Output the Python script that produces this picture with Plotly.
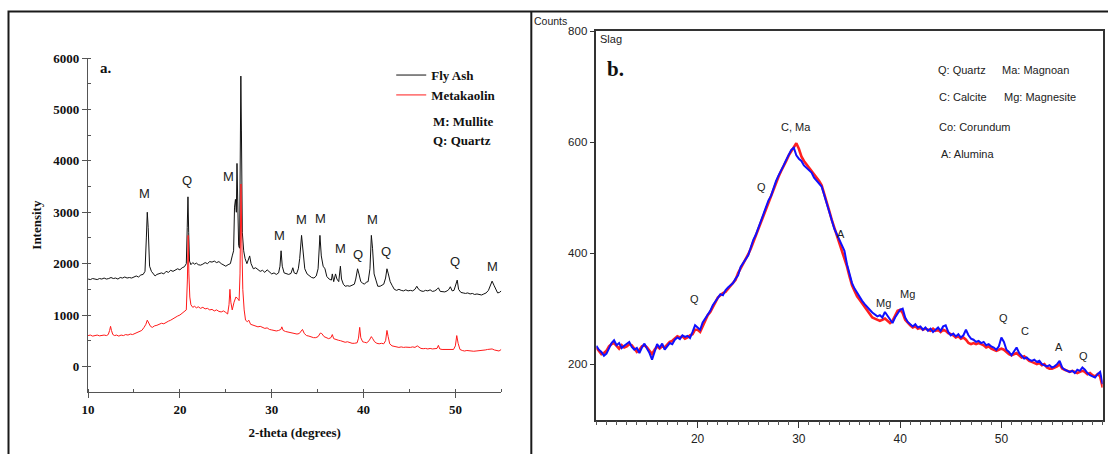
import plotly.graph_objects as go

W, H = 1108, 454

# ---- (a) Fly ash / metakaolin diffractograms: (2-theta, intensity) ----
fly_ash = [
    (10.0, 1700), (10.25, 1690), (10.5, 1710), (10.75, 1700), (11.0, 1690), (11.25, 1710),
    (11.5, 1700), (11.75, 1720), (12.0, 1700), (12.25, 1710), (12.5, 1730), (12.75, 1710),
    (13.0, 1720), (13.25, 1700), (13.5, 1730), (13.75, 1720), (14.0, 1740), (14.25, 1720),
    (14.5, 1730), (14.75, 1720), (15.0, 1740), (15.25, 1760), (15.5, 1740), (15.75, 1780),
    (16.0, 1790), (16.2, 1850), (16.35, 2500), (16.45, 3000), (16.55, 2700), (16.7, 1950),
    (16.9, 1850), (17.1, 1800), (17.3, 1760), (17.5, 1790), (17.75, 1800), (18.0, 1820),
    (18.25, 1800), (18.5, 1850), (18.75, 1830), (19.0, 1870), (19.25, 1850), (19.5, 1880),
    (19.75, 1900), (20.0, 1880), (20.25, 1920), (20.5, 1940), (20.7, 2000), (20.8, 2700),
    (20.88, 3300), (20.96, 2600), (21.05, 2050), (21.2, 1980), (21.4, 2020), (21.6, 1990),
    (21.8, 2010), (22.0, 1980), (22.25, 1970), (22.5, 1990), (22.75, 2020), (23.0, 2000),
    (23.25, 2040), (23.5, 2030), (23.75, 2050), (24.0, 2020), (24.25, 2040), (24.5, 2000),
    (24.75, 1980), (25.0, 1950), (25.25, 1980), (25.5, 2000), (25.7, 2150), (25.85, 2250),
    (25.95, 3100), (26.05, 3250), (26.15, 3000), (26.22, 3950), (26.3, 3200), (26.4, 2350),
    (26.5, 2300), (26.58, 4500), (26.64, 5650), (26.7, 4600), (26.8, 2600), (26.95, 2250),
    (27.1, 2100), (27.3, 2000), (27.5, 2100), (27.6, 2150), (27.75, 2000), (28.0, 1900),
    (28.25, 1920), (28.5, 1880), (28.75, 1850), (29.0, 1870), (29.25, 1830), (29.5, 1880),
    (29.75, 1840), (30.0, 1800), (30.25, 1820), (30.5, 1790), (30.75, 1820), (30.9, 1950),
    (31.02, 2250), (31.15, 1950), (31.35, 1820), (31.6, 1800), (31.85, 1790), (32.1, 1810),
    (32.3, 1920), (32.45, 1820), (32.7, 1800), (32.9, 1900), (33.05, 2100), (33.25, 2550),
    (33.4, 2300), (33.6, 1900), (33.85, 1800), (34.1, 1760), (34.35, 1730), (34.6, 1720),
    (34.85, 1760), (35.05, 1900), (35.25, 2550), (35.4, 2150), (35.6, 1950), (35.8, 1900),
    (36.0, 1750), (36.25, 1700), (36.5, 1680), (36.6, 1800), (36.75, 1650), (36.95, 1800),
    (37.1, 1700), (37.3, 1650), (37.48, 1950), (37.6, 1700), (37.8, 1600), (38.0, 1560),
    (38.25, 1570), (38.5, 1560), (38.75, 1580), (39.0, 1600), (39.15, 1700), (39.35, 1900),
    (39.5, 1800), (39.7, 1650), (39.9, 1620), (40.1, 1600), (40.3, 1640), (40.5, 1650),
    (40.7, 1900), (40.85, 2550), (40.98, 2300), (41.15, 1800), (41.35, 1680), (41.55, 1560),
    (41.8, 1560), (42.0, 1580), (42.2, 1600), (42.4, 1720), (42.55, 1900), (42.7, 1800),
    (42.9, 1650), (43.1, 1580), (43.35, 1500), (43.6, 1480), (43.85, 1500), (44.1, 1480),
    (44.35, 1470), (44.6, 1490), (44.85, 1470), (45.1, 1480), (45.35, 1470), (45.6, 1500),
    (45.8, 1560), (46.0, 1500), (46.25, 1470), (46.5, 1460), (46.75, 1480), (47.0, 1470),
    (47.25, 1490), (47.5, 1460), (47.75, 1470), (48.0, 1500), (48.15, 1530), (48.35, 1460),
    (48.6, 1460), (48.85, 1450), (49.1, 1470), (49.3, 1500), (49.45, 1550), (49.65, 1470),
    (49.85, 1480), (50.05, 1600), (50.2, 1680), (50.35, 1500), (50.6, 1440), (50.85, 1430),
    (51.1, 1420), (51.35, 1430), (51.6, 1410), (51.85, 1420), (52.1, 1400), (52.35, 1410),
    (52.6, 1400), (52.85, 1390), (53.1, 1410), (53.35, 1430), (53.6, 1480), (53.85, 1600),
    (54.0, 1660), (54.2, 1580), (54.4, 1500), (54.6, 1430), (54.8, 1440), (55.0, 1470),
]

metakaolin = [
    (10.0, 600), (10.25, 610), (10.5, 590), (10.75, 600), (11.0, 610), (11.25, 595),
    (11.5, 600), (11.75, 610), (12.0, 600), (12.2, 620), (12.35, 700), (12.45, 780),
    (12.55, 700), (12.7, 620), (12.9, 600), (13.1, 610), (13.35, 590), (13.6, 610),
    (13.85, 600), (14.1, 620), (14.35, 610), (14.6, 630), (14.85, 620), (15.1, 640),
    (15.35, 650), (15.6, 680), (15.85, 700), (16.1, 760), (16.3, 820), (16.45, 900),
    (16.6, 850), (16.8, 780), (17.0, 760), (17.25, 790), (17.5, 800), (17.75, 820),
    (18.0, 840), (18.25, 830), (18.5, 860), (18.75, 880), (19.0, 900), (19.25, 930),
    (19.5, 950), (19.75, 980), (20.0, 1000), (20.25, 1030), (20.5, 1060), (20.7, 1100),
    (20.82, 1700), (20.9, 2550), (20.98, 1800), (21.08, 1350), (21.2, 1200), (21.4, 1150),
    (21.6, 1170), (21.8, 1140), (22.0, 1160), (22.25, 1130), (22.5, 1150), (22.75, 1120),
    (23.0, 1130), (23.25, 1100), (23.5, 1110), (23.75, 1080), (24.0, 1100), (24.25, 1070),
    (24.5, 1060), (24.75, 1080), (25.0, 1050), (25.2, 1020), (25.35, 1200), (25.45, 1500),
    (25.55, 1250), (25.7, 1100), (25.9, 1250), (26.1, 1350), (26.3, 1320), (26.45, 1280),
    (26.55, 1800), (26.65, 3550), (26.75, 2400), (26.85, 1500), (27.0, 1100), (27.15, 900),
    (27.35, 870), (27.5, 900), (27.7, 820), (28.0, 800), (28.25, 790), (28.5, 770),
    (28.75, 780), (29.0, 760), (29.25, 740), (29.5, 750), (29.75, 720), (30.0, 710),
    (30.25, 700), (30.5, 690), (30.75, 700), (31.0, 720), (31.1, 770), (31.25, 700),
    (31.5, 680), (31.75, 670), (32.0, 660), (32.25, 650), (32.5, 640), (32.75, 630),
    (33.0, 640), (33.2, 680), (33.35, 720), (33.55, 640), (33.8, 600), (34.05, 590),
    (34.3, 570), (34.55, 560), (34.8, 560), (35.05, 580), (35.3, 650), (35.45, 640),
    (35.7, 580), (35.95, 560), (36.2, 540), (36.45, 560), (36.6, 620), (36.75, 540),
    (37.0, 520), (37.25, 510), (37.5, 500), (37.75, 480), (38.0, 470), (38.25, 480),
    (38.5, 460), (38.75, 450), (39.0, 450), (39.3, 460), (39.45, 550), (39.58, 760),
    (39.7, 560), (39.9, 480), (40.1, 470), (40.35, 460), (40.6, 500), (40.85, 580),
    (41.0, 540), (41.2, 480), (41.45, 450), (41.7, 440), (41.95, 450), (42.2, 440),
    (42.4, 500), (42.55, 700), (42.68, 580), (42.85, 440), (43.1, 400), (43.35, 390),
    (43.6, 380), (43.85, 370), (44.1, 380), (44.35, 370), (44.6, 375), (44.85, 365),
    (45.1, 370), (45.35, 380), (45.6, 370), (45.85, 400), (46.0, 380), (46.25, 350),
    (46.5, 345), (46.75, 350), (47.0, 340), (47.25, 350), (47.5, 340), (47.75, 345),
    (48.0, 350), (48.15, 410), (48.3, 340), (48.55, 330), (48.8, 330), (49.05, 320),
    (49.3, 330), (49.55, 325), (49.8, 330), (50.0, 400), (50.15, 600), (50.3, 450),
    (50.5, 330), (50.75, 310), (51.0, 300), (51.25, 310), (51.5, 300), (51.75, 300),
    (52.0, 295), (52.25, 300), (52.5, 305), (52.75, 300), (53.0, 310), (53.25, 320),
    (53.5, 330), (53.75, 330), (54.0, 340), (54.25, 320), (54.5, 310), (54.75, 300),
    (55.0, 330),
]

# peak identifications on panel (a): (2-theta, height, phase letter)
peaks_a = [
    (16.1, 3365, "M"), (20.8, 3620, "Q"), (25.3, 3700, "M"), (26.9, 6160, "Q"),
    (30.9, 2545, "M"), (33.2, 2860, "M"), (35.3, 2875, "M"), (37.5, 2290, "M"),
    (39.4, 2175, "Q"), (41.0, 2860, "M"), (42.5, 2235, "Q"), (50.0, 2040, "Q"),
    (54.0, 1940, "M"),
]

# ---- (b) Slag diffractogram, two scans, 0.25 deg steps from 10 to 60 ----
slag_2theta_start, slag_2theta_step = 10.0, 0.25
slag_blue = [
    233, 226, 222, 215, 219, 230, 238, 243, 234, 238, 229, 233, 236, 240, 231, 226, 229, 220, 230, 237,
    228, 220, 208, 222, 236, 230, 237, 226, 232, 238, 236, 244, 248, 245, 252, 249, 251, 247, 258, 270,
    266, 262, 275, 282, 290, 296, 306, 312, 318, 326, 324, 333, 338, 342, 346, 354, 360, 375, 382, 388,
    396, 410, 424, 433, 446, 455, 470, 483, 495, 503, 518, 530, 540, 548, 558, 568, 578, 586, 590, 576,
    570, 566, 558, 554, 550, 545, 536, 530, 526, 520, 505, 490, 472, 456, 444, 434, 424, 412, 404, 380,
    360, 346, 336, 328, 322, 314, 308, 302, 298, 293, 290, 286, 288, 284, 294, 288, 280, 274, 284, 290,
    298, 300, 284, 276, 272, 268, 272, 266, 268, 262, 266, 260, 264, 258, 262, 266, 260, 268, 270, 258,
    252, 255, 250, 254, 248, 252, 262, 252, 246, 244, 240, 242, 238, 240, 234, 236, 232, 230, 226, 232,
    248, 240, 226, 222, 216, 222, 230, 220, 214, 210, 212, 208, 206, 208, 204, 206, 200, 198, 196, 198,
    194, 196, 200, 206, 194, 190, 188, 186, 188, 184, 190, 188, 194, 190, 184, 180, 178, 176, 182, 186,
    164,
]
slag_red = [
    230, 224, 218, 220, 224, 232, 236, 238, 232, 228, 234, 230, 232, 236, 234, 228, 222, 226, 232, 234,
    230, 224, 218, 226, 232, 228, 232, 230, 236, 240, 242, 246, 250, 248, 250, 246, 248, 252, 254, 262,
    262, 258, 268, 278, 288, 294, 302, 310, 320, 324, 328, 330, 336, 340, 348, 352, 364, 372, 380, 390,
    398, 408, 420, 432, 442, 456, 468, 480, 492, 502, 514, 526, 538, 548, 556, 566, 576, 584, 592, 598,
    588, 574, 566, 560, 556, 550, 542, 536, 530, 522, 508, 492, 476, 460, 446, 432, 420, 406, 394, 376,
    358, 342, 332, 322, 316, 310, 302, 296, 290, 284, 282, 280, 278, 280, 282, 278, 274, 278, 286, 296,
    298, 292, 280, 274, 270, 266, 268, 264, 266, 262, 264, 262, 260, 264, 260, 262, 258, 262, 260, 256,
    254, 252, 248, 250, 246, 248, 244, 238, 236, 238, 236, 238, 236, 234, 230, 232, 228, 226, 224, 226,
    228, 226, 222, 218, 216, 218, 220, 216, 212, 214, 210, 206, 204, 202, 200, 202, 198, 200, 194, 192,
    192, 194, 196, 200, 192, 190, 188, 186, 188, 186, 184, 186, 188, 186, 182, 184, 180, 178, 182, 178,
    158,
]
slag_2theta = [slag_2theta_start + i * slag_2theta_step for i in range(len(slag_blue))]

# peak identifications on panel (b)
peaks_b = [
    (19.7, 318, "Q"), (26.3, 519, "Q"), (29.7, 627, "C, Ma"), (34.2, 435, "A"),
    (38.4, 311, "Mg"), (40.7, 327, "Mg"), (50.2, 284, "Q"), (52.3, 259, "C"),
    (55.7, 230, "A"), (58.1, 214, "Q"),
]

# phase key for panel (b): (x pixel, y pixel, text)
key_b = [
    (935, 71, "Q: Quartz"), (999, 71, "Ma: Magnoan"),
    (936, 98, "C: Calcite"), (1001, 98, "Mg: Magnesite"),
    (936, 128, "Co: Corundum"), (938, 155, "A: Alumina"),
]

SERIF = "Liberation Serif, Times New Roman, serif"
SANS = "Liberation Sans, Arial, sans-serif"

# layout pixel grid -> paper fractions
GRID_X0, GRID_SX = 6.0, 0.994
GRID_Y0, GRID_SY = 8.0, 0.983


def px(x):
    return ((x - GRID_X0) / GRID_SX) / W


def py(y):
    return 1 - ((y - GRID_Y0) / GRID_SY) / H


def label(x, y, text, family, size, color="#222"):
    """free text placed by its left edge / vertical centre in pixel coordinates"""
    return dict(x=px(x), y=py(y), xref="paper", yref="paper", text=text, showarrow=False,
                xanchor="left", yanchor="middle",
                font=dict(family=family, size=size, color=color))


fig = go.Figure()

fa_x, fa_y = zip(*fly_ash)
mk_x, mk_y = zip(*metakaolin)
fig.add_trace(go.Scatter(x=fa_x, y=fa_y, mode="lines", name="Fly Ash",
                         line=dict(color="#111111", width=1), xaxis="x", yaxis="y"))
fig.add_trace(go.Scatter(x=mk_x, y=mk_y, mode="lines", name="Metakaolin",
                         line=dict(color="#ff1a1a", width=1), xaxis="x", yaxis="y"))
fig.add_trace(go.Scatter(x=slag_2theta, y=slag_red, mode="lines", showlegend=False,
                         line=dict(color="#ff2020", width=2.6), xaxis="x2", yaxis="y2"))
fig.add_trace(go.Scatter(x=slag_2theta, y=slag_blue, mode="lines", showlegend=False,
                         line=dict(color="#1010ff", width=2), xaxis="x2", yaxis="y2"))

annotations = []
for x, y, t in peaks_a:
    annotations.append(dict(x=x, y=y, xref="x", yref="y", text=t, showarrow=False,
                            xanchor="center", yanchor="middle",
                            font=dict(family=SANS, size=13, color="#222")))
for x, y, t in peaks_b:
    annotations.append(dict(x=x, y=y, xref="x2", yref="y2", text=t, showarrow=False,
                            xanchor="center", yanchor="middle",
                            font=dict(family=SANS, size=11, color="#222")))
for x, y, t in key_b:
    annotations.append(label(x, y, t, SANS, 11))

annotations += [
    label(98, 69, "<b>a.</b>", SERIF, 15, "#111"),
    label(431, 122, "<b>M: Mullite</b>", SERIF, 13, "#111"),
    label(431, 141, "<b>Q: Quartz</b>", SERIF, 13, "#111"),
    label(532, 22, "Counts", SANS, 10.5),
    label(598, 40, "Slag", SANS, 11),
    label(605, 70, "<b>b.</b>", SERIF, 21, "#111"),
]

# outer panel frames
shapes = [
    dict(type="rect", xref="paper", yref="paper", x0=px(8.5), x1=px(1125), y0=py(475),
         y1=py(12.5), line=dict(color="#1a1a1a", width=2)),
    dict(type="line", xref="paper", yref="paper", x0=px(531), x1=px(531), y0=py(475),
         y1=py(12.5), line=dict(color="#1a1a1a", width=2)),
]

fig.update_layout(
    width=W, height=H,
    margin=dict(l=0, r=0, t=0, b=0),
    paper_bgcolor="white", plot_bgcolor="white",
    showlegend=True,
    legend=dict(x=px(391), y=py(61), xanchor="left", yanchor="top",
                bgcolor="rgba(0,0,0,0)", tracegroupgap=0, itemwidth=30,
                font=dict(family=SERIF, size=13, color="#111", weight="bold")),
    annotations=annotations,
    shapes=shapes,
    xaxis=dict(
        domain=[px(88), px(501)], range=[10, 55], anchor="y",
        showline=True, linecolor="#555", linewidth=1.2, showgrid=False, zeroline=False,
        ticks="outside", ticklen=5, tickcolor="#555", dtick=10, tick0=10,
        minor=dict(ticks="inside", ticklen=3, dtick=5, tickcolor="#555"),
        tickfont=dict(family=SERIF, size=13, color="#111", weight="bold"),
        title=dict(text="2-theta (degrees)", standoff=12,
                   font=dict(family=SERIF, size=13, color="#111", weight="bold")),
    ),
    yaxis=dict(
        domain=[py(392.5), py(59)], range=[-500, 6000], anchor="x",
        showline=True, linecolor="#555", linewidth=1.2, showgrid=False, zeroline=False,
        ticks="outside", ticklen=5, tickcolor="#555", dtick=1000, tick0=0,
        minor=dict(ticks="inside", ticklen=3, dtick=500, tickcolor="#555"),
        tickfont=dict(family=SERIF, size=13, color="#111", weight="bold"),
        title=dict(text="Intensity", standoff=8,
                   font=dict(family=SERIF, size=13, color="#111", weight="bold")),
    ),
    xaxis2=dict(
        domain=[px(596), px(1102)], range=[10, 60], anchor="y2",
        showline=True, mirror=True, linecolor="#333", linewidth=1.5, showgrid=False,
        zeroline=False, ticks="outside", ticklen=7, tickcolor="#333",
        tickvals=[20, 30, 40, 50],
        minor=dict(ticks="outside", ticklen=4, dtick=1, tickcolor="#555"),
        tickfont=dict(family=SANS, size=12, color="#222"),
    ),
    yaxis2=dict(
        domain=[py(420), py(32)], range=[100, 800], anchor="x2",
        showline=True, mirror=True, linecolor="#333", linewidth=1.5, showgrid=False,
        zeroline=False, ticks="outside", ticklen=5, tickcolor="#333",
        tickvals=[200, 400, 600, 800],
        tickfont=dict(family=SANS, size=11.5, color="#222"),
    ),
)

fig.write_html("out.html")
